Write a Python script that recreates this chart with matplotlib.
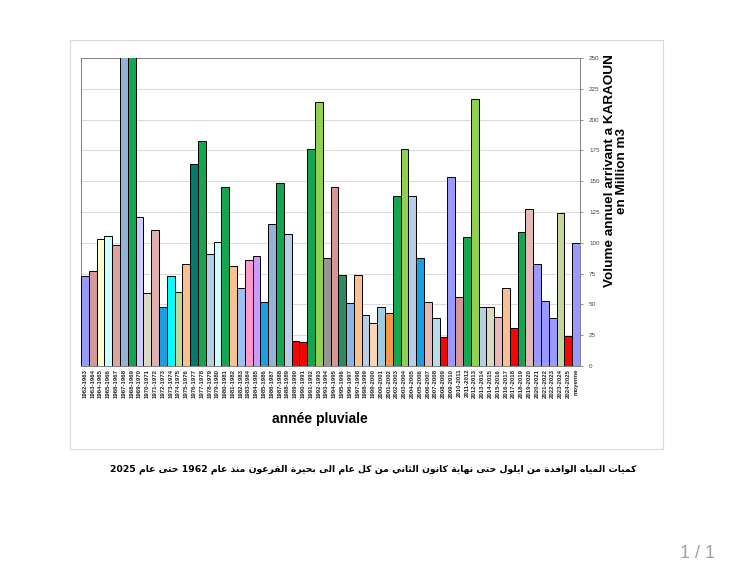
import matplotlib
matplotlib.use("Agg")
import matplotlib.pyplot as plt
from matplotlib.patches import Rectangle

# Values (million m3, Sept -> end of January)
years = [
    "1962-1963", "1963-1964", "1964-1965", "1965-1966", "1966-1967", "1967-1968",
    "1968-1969", "1969-1970", "1970-1971", "1971-1972", "1972-1973", "1973-1974",
    "1974-1975", "1975-1976", "1976-1977", "1977-1978", "1978-1979", "1979-1980",
    "1980-1981", "1981-1982", "1982-1983", "1983-1984", "1984-1985", "1985-1986",
    "1986-1987", "1987-1988", "1988-1989", "1989-1990", "1990-1991", "1991-1992",
    "1992-1993", "1993-1994", "1994-1995", "1995-1996", "1996-1997", "1997-1998",
    "1998-1999", "1999-2000", "2000-2001", "2001-2002", "2002-2003", "2003-2004",
    "2004-2005", "2005-2006", "2006-2007", "2007-2008", "2008-2009", "2009-2010",
    "2010-2011", "2011-2012", "2012-2013", "2013-2014", "2014-2015", "2015-2016",
    "2016-2017", "2017-2018", "2018-2019", "2019-2020", "2020-2021", "2021-2022",
    "2022-2023", "2023-2024", "2024-2025", "moyenne",
]
volumes = [
    73, 77, 103, 105.5, 98.5, 270,
    265, 121, 59, 110.5, 48, 73,
    60, 82.5, 164, 182.5, 91, 101,
    145, 81.5, 63.5, 86, 89.5, 52,
    115.5, 148.5, 107, 20, 19.5, 176.5,
    214.5, 88, 145, 74, 51.5, 74,
    41, 35, 47.5, 43, 138, 176,
    138, 88, 52, 39, 23.5, 153.5,
    56, 104.5, 216.5, 47.5, 47.5, 40,
    63.5, 30.5, 108.5, 127.5, 83, 52.5,
    39, 124, 24, 99.5,
]
colors = [
    "#9999FF", "#D49A9A", "#FFFFCC", "#CCFFFF", "#DDA3A3", "#95B3D7",
    "#12A650", "#CCCCFF", "#DDD9C3", "#E0B0AF", "#1AA0E0", "#00FFFF",
    "#C4D79B", "#FAC090", "#007A6E", "#12A650", "#B9CDE5", "#CCFFFF",
    "#12A650", "#FAC090", "#99C2F0", "#FF99CC", "#CC99FF", "#1AA0E0",
    "#95B3D7", "#12A650", "#B9CDE5", "#FF0000", "#FF0000", "#12A650",
    "#92D050", "#969696", "#DA9694", "#2E8B5E", "#8DB4E2", "#FAC090",
    "#B9CDE5", "#FCD5B4", "#9DCCE0", "#F79646", "#12A650", "#92D050",
    "#B9CDE5", "#1AA0E0", "#E6B9B8", "#B7DEE8", "#FF0000", "#9999FF",
    "#DA9694", "#12A650", "#92D050", "#B9CDE5", "#DDD9C3", "#E6B9B8",
    "#FAC090", "#FF0000", "#12A650", "#E6B9B8", "#9999FF", "#9999FF",
    "#9999FF", "#C4D79B", "#FF0000", "#9999FF",
]
y_ticks = list(range(0, 251, 25))

caption = ("كميات المياه الوافدة من ايلول حتى نهاية كانون الثاني من كل عام "
           "الى بحيرة القرعون منذ عام 1962 حتى عام 2025")

# minimal arabic shaping: (first presentation form, joins to next letter)
AR_FORMS = {
    "ا": (0xFE8D, False), "ب": (0xFE8F, True), "ة": (0xFE93, False),
    "ت": (0xFE95, True), "ث": (0xFE99, True), "ح": (0xFEA1, True),
    "د": (0xFEA9, False), "ذ": (0xFEAB, False), "ر": (0xFEAD, False),
    "ع": (0xFEC9, True), "ف": (0xFED1, True), "ق": (0xFED5, True),
    "ك": (0xFED9, True), "ل": (0xFEDD, True), "م": (0xFEE1, True),
    "ن": (0xFEE5, True), "ه": (0xFEE9, True), "و": (0xFEED, False),
    "ى": (0xFEEF, False), "ي": (0xFEF1, True),
}


def shape_word(word):
    out = []
    for i, ch in enumerate(word):
        base, dual = AR_FORMS[ch]
        prev_joins = i > 0 and AR_FORMS[word[i - 1]][1]
        has_next = i < len(word) - 1
        if dual:
            if prev_joins and has_next:
                form = 3
            elif prev_joins:
                form = 1
            elif has_next:
                form = 2
            else:
                form = 0
        else:
            form = 1 if prev_joins else 0
        out.append(chr(base + form))
    return "".join(out)


def to_visual(text):
    words = text.split()
    parts = [w if w.isdigit() else shape_word(w)[::-1] for w in reversed(words)]
    return " ".join(parts)


plt.rcParams["font.family"] = ["Liberation Sans", "DejaVu Sans"]

fig = plt.figure(figsize=(7.38, 5.64), dpi=100)
fig.patch.set_facecolor("white")

# light frame around the chart object
fig.patches.append(Rectangle((70 / 738, 1 - 449 / 564), 593 / 738, 409 / 564,
                             transform=fig.transFigure, fill=False,
                             edgecolor="#D9D9D9", linewidth=0.8))

ax = fig.add_axes([81 / 738, 1 - 366 / 564, 499 / 738, 308 / 564])
x = list(range(len(years)))
ax.bar(x, volumes, width=1.0, color=colors, edgecolor="black", linewidth=0.7,
       zorder=3)

ax.set_xlim(-0.5, len(years) - 0.5)
ax.set_ylim(0, 250)
ax.set_yticks(y_ticks)
ax.yaxis.tick_right()
ax.tick_params(axis="y", labelsize=4.5, labelcolor="#444444", length=2.5,
               width=0.5, color="#666666", pad=4)
ax.grid(axis="y", color="#D9D9D9", linewidth=0.7, zorder=0)

ax.set_xticks(x)
ax.set_xticklabels(years, rotation=90, fontsize=4.3, fontweight="bold",
                   color="#222222")
ax.tick_params(axis="x", length=0, pad=2)

for side in ["left", "right", "bottom", "top"]:
    ax.spines[side].set_color("#808080")
    ax.spines[side].set_linewidth(0.7)

fig.text(320 / 738, 1 - 419 / 564, "année pluviale", ha="center", va="center",
         fontsize=10, fontweight="bold")
fig.text(616 / 738, 1 - 171 / 564, "Volume annuel arrivant a KARAOUN\nen Million m3",
         rotation=90, ha="center", va="center", fontsize=9.7, fontweight="bold",
         multialignment="center", linespacing=1.1)

fig.text(373 / 738, 1 - 469 / 564, to_visual(caption), ha="center", va="center",
         fontsize=6.7, fontweight="bold", family=["DejaVu Sans"])

fig.text(697 / 738, 1 - 553 / 564, "1 / 1", ha="center", va="center",
         fontsize=13, color="#A0A0A0")

fig.savefig("out.png", dpi=100)
